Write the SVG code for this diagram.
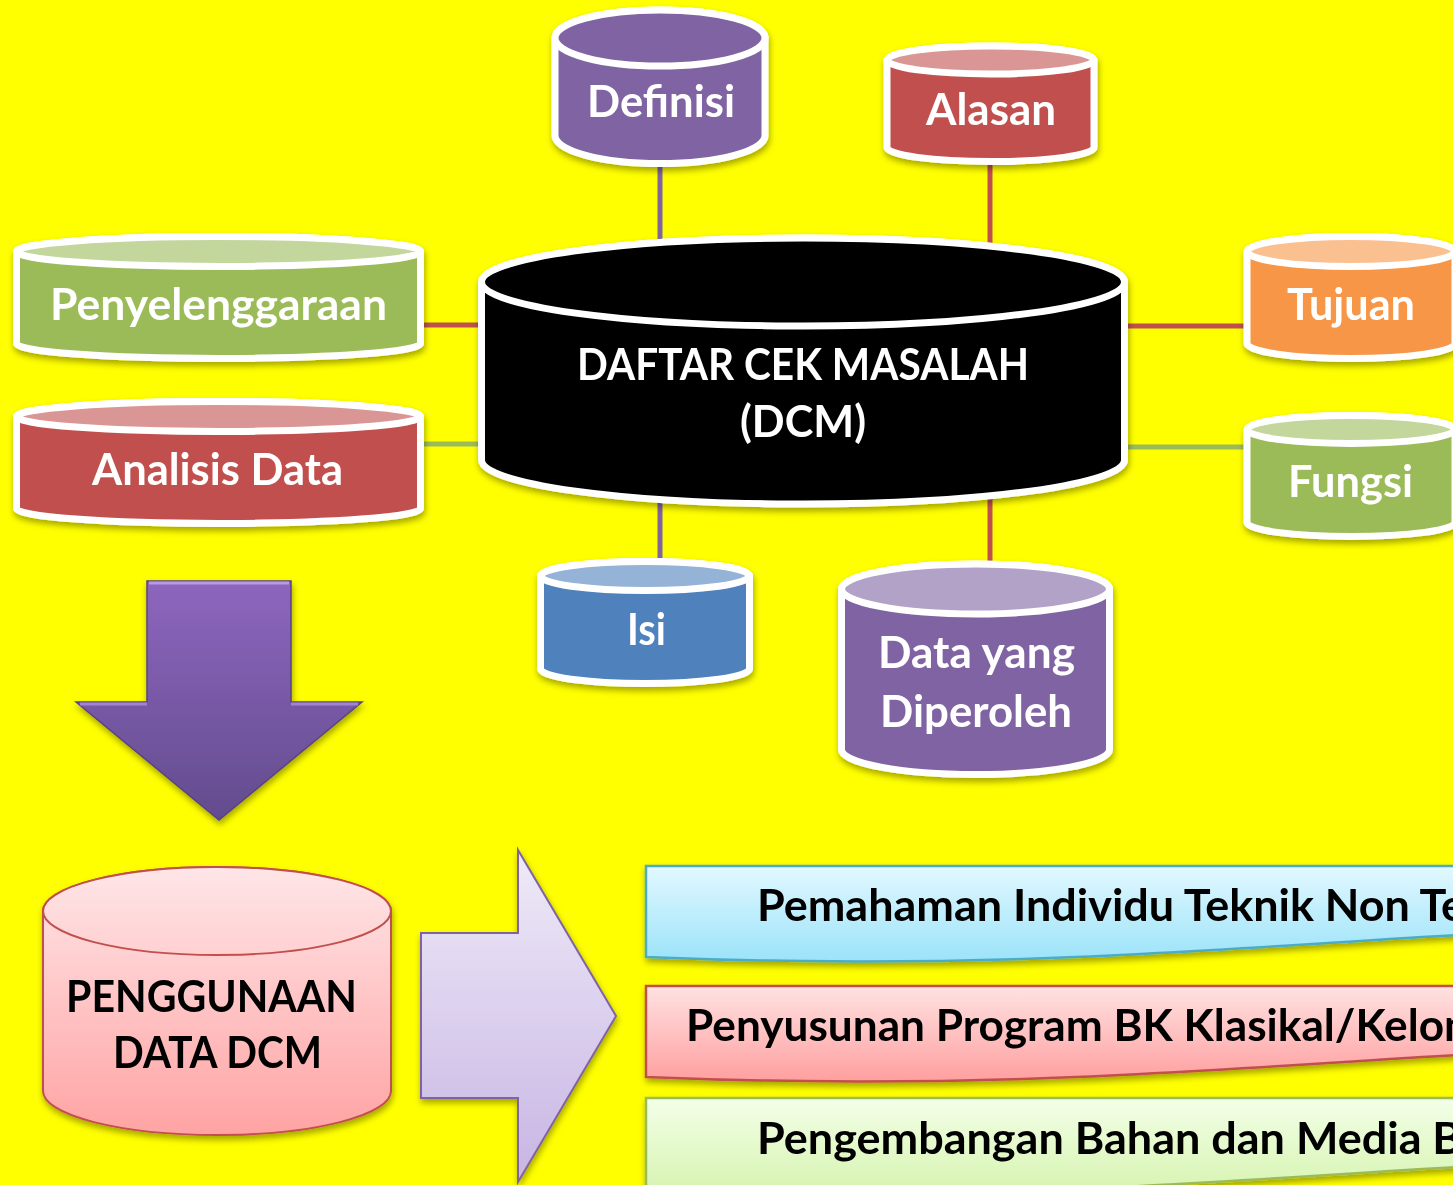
<svg xmlns="http://www.w3.org/2000/svg" width="1453" height="1185" viewBox="0 0 1453 1185">
<defs>
<style>
.t{font-family:Lato,"Open Sans","Liberation Sans",sans-serif;font-weight:700;font-size:43px;fill:#fff}
.k{fill:#000}
.cyl{stroke:#fff;stroke-width:7}
.con{stroke-width:5;fill:none}
</style>
<filter id="sh" x="-10%" y="-10%" width="125%" height="135%">
<feDropShadow dx="1" dy="4" stdDeviation="3" flood-color="#000" flood-opacity="0.35"/>
</filter>
<linearGradient id="gDown" x1="0" y1="0" x2="0" y2="1">
<stop offset="0" stop-color="#8D66BE"/><stop offset="1" stop-color="#634C8E"/>
</linearGradient>
<linearGradient id="gRight" x1="0" y1="0" x2="0" y2="1">
<stop offset="0" stop-color="#EFEAF8"/><stop offset="1" stop-color="#C7B5E3"/>
</linearGradient>
<linearGradient id="gPink" gradientUnits="userSpaceOnUse" x1="0" y1="867" x2="0" y2="1135">
<stop offset="0" stop-color="#FFE6E8"/><stop offset="1" stop-color="#FFA3A3"/>
</linearGradient>
<linearGradient id="gB1" x1="0" y1="0" x2="0" y2="1">
<stop offset="0" stop-color="#E2F8FF"/><stop offset="1" stop-color="#9BE3F9"/>
</linearGradient>
<linearGradient id="gB2" x1="0" y1="0" x2="0" y2="1">
<stop offset="0" stop-color="#FFE2E2"/><stop offset="1" stop-color="#FF9F9F"/>
</linearGradient>
<linearGradient id="gB3" x1="0" y1="0" x2="0" y2="1">
<stop offset="0" stop-color="#F3FFE8"/><stop offset="1" stop-color="#D6F4B0"/>
</linearGradient>
</defs>
<rect width="1453" height="1185" fill="#FFFF00"/>

<g id="connectors">
<line class="con" stroke="#8064A2" x1="660" y1="160" x2="660" y2="250"/>
<line class="con" stroke="#C0504D" x1="990" y1="155" x2="990" y2="250"/>
<line class="con" stroke="#C0504D" x1="420" y1="325" x2="490" y2="325"/>
<line class="con" stroke="#9BBB59" x1="420" y1="444" x2="490" y2="444"/>
<line class="con" stroke="#C0504D" x1="1120" y1="326" x2="1250" y2="326"/>
<line class="con" stroke="#9BBB59" x1="1120" y1="447" x2="1250" y2="447"/>
<line class="con" stroke="#8064A2" x1="660" y1="495" x2="660" y2="570"/>
<line class="con" stroke="#C0504D" x1="990" y1="495" x2="990" y2="570"/>
</g>

<g id="definisi" filter="url(#sh)">
<path class="cyl" fill="#8064A2" d="M555,38 V135.5 A105,28 0 0 0 765,135.5 V38 A105,28 0 0 0 555,38 Z"/>
<ellipse class="cyl" fill="#8064A2" cx="660" cy="38" rx="105" ry="28"/>
<text class="t" x="587" y="117" textLength="148" lengthAdjust="spacingAndGlyphs">Definisi</text>
</g>

<g id="alasan" filter="url(#sh)">
<path class="cyl" fill="#C0504D" d="M887,60 V147.5 A103.5,14 0 0 0 1094,147.5 V60 A103.5,14 0 0 0 887,60 Z"/>
<ellipse class="cyl" fill="#D99694" cx="990.5" cy="60" rx="103.5" ry="14"/>
<text class="t" x="926" y="125" textLength="130" lengthAdjust="spacingAndGlyphs">Alasan</text>
</g>

<g id="penyelenggaraan" filter="url(#sh)">
<path class="cyl" fill="#9BBB59" d="M16.5,251.5 V343.5 A202,15 0 0 0 420.5,343.5 V251.5 A202,15 0 0 0 16.5,251.5 Z"/>
<ellipse class="cyl" fill="#C3D69B" cx="218.5" cy="251.5" rx="202" ry="15"/>
<text class="t" x="50" y="320" textLength="337" lengthAdjust="spacingAndGlyphs">Penyelenggaraan</text>
</g>

<g id="analisis-data" filter="url(#sh)">
<path class="cyl" fill="#C0504D" d="M16.5,416.5 V508.5 A202,15 0 0 0 420.5,508.5 V416.5 A202,15 0 0 0 16.5,416.5 Z"/>
<ellipse class="cyl" fill="#D99694" cx="218.5" cy="416.5" rx="202" ry="15"/>
<text class="t" x="92" y="485" textLength="251" lengthAdjust="spacingAndGlyphs">Analisis Data</text>
</g>

<g id="dcm" filter="url(#sh)">
<path class="cyl" fill="#000" d="M481.5,282 V460 A321.5,44 0 0 0 1124.5,460 V282 A321.5,44 0 0 0 481.5,282 Z"/>
<ellipse class="cyl" fill="#000" cx="803" cy="282" rx="321.5" ry="44"/>
<text class="t" x="577" y="380" textLength="452" lengthAdjust="spacingAndGlyphs">DAFTAR CEK MASALAH</text>
<text class="t" x="740" y="437" textLength="126" lengthAdjust="spacingAndGlyphs">(DCM)</text>
</g>

<g id="tujuan" filter="url(#sh)">
<path class="cyl" fill="#F79646" d="M1247,251.5 V343.5 A104,15 0 0 0 1455,343.5 V251.5 A104,15 0 0 0 1247,251.5 Z"/>
<ellipse class="cyl" fill="#FAC090" cx="1351" cy="251.5" rx="104" ry="15"/>
<text class="t" x="1287" y="320" textLength="128" lengthAdjust="spacingAndGlyphs">Tujuan</text>
</g>

<g id="fungsi" filter="url(#sh)">
<path class="cyl" fill="#9BBB59" d="M1247,429.5 V522.5 A104,14 0 0 0 1455,522.5 V429.5 A104,14 0 0 0 1247,429.5 Z"/>
<ellipse class="cyl" fill="#C3D69B" cx="1351" cy="429.5" rx="104" ry="14"/>
<text class="t" x="1288" y="497" textLength="125" lengthAdjust="spacingAndGlyphs">Fungsi</text>
</g>

<g id="isi" filter="url(#sh)">
<path class="cyl" fill="#4F81BD" d="M540.5,576 V669 A104.5,14.5 0 0 0 749.5,669 V576 A104.5,14.5 0 0 0 540.5,576 Z"/>
<ellipse class="cyl" fill="#95B3D7" cx="645" cy="576" rx="104.5" ry="14.5"/>
<text class="t" x="627" y="645" textLength="39" lengthAdjust="spacingAndGlyphs">Isi</text>
</g>

<g id="data-diperoleh" filter="url(#sh)">
<path class="cyl" fill="#8064A2" d="M841.5,589 V749.5 A134,25 0 0 0 1109.5,749.5 V589 A134,25 0 0 0 841.5,589 Z"/>
<ellipse class="cyl" fill="#B2A2C7" cx="975.5" cy="589" rx="134" ry="25"/>
<text class="t" x="878" y="668" textLength="197" lengthAdjust="spacingAndGlyphs">Data yang</text>
<text class="t" x="880" y="727" textLength="192" lengthAdjust="spacingAndGlyphs">Diperoleh</text>
</g>

<g id="arrow-down" filter="url(#sh)">
<polygon points="147,581 291,581 291,702 362,702 219,820 76,702 147,702" fill="url(#gDown)" stroke="#5A4482" stroke-width="1.5"/>
<polyline points="149,583 289,583" stroke="#B99AE8" stroke-width="3" fill="none"/>
<polyline points="80,704 147,704" stroke="#A283D2" stroke-width="3" fill="none"/>
<polyline points="291,704 358,704" stroke="#A283D2" stroke-width="3" fill="none"/>
</g>

<g id="penggunaan" filter="url(#sh)">
<path fill="url(#gPink)" stroke="#C0504D" stroke-width="2" d="M43,911 V1091 A174,44 0 0 0 391,1091 V911 A174,44 0 0 0 43,911 Z"/>
<ellipse fill="url(#gPink)" stroke="#C0504D" stroke-width="2" cx="217" cy="911" rx="174" ry="44"/>
<text class="t k" x="66" y="1012" textLength="291" lengthAdjust="spacingAndGlyphs">PENGGUNAAN</text>
<text class="t k" x="113" y="1068" textLength="209" lengthAdjust="spacingAndGlyphs">DATA DCM</text>
</g>

<g id="arrow-right" filter="url(#sh)">
<polygon points="421,933 518,933 518,850 616,1016 518,1182 518,1098 421,1098" fill="url(#gRight)" stroke="#8064A2" stroke-width="2"/>
</g>

<g id="banner-1" filter="url(#sh)">
<path d="M646,866 H1475 V934 C1250,946 1000,972 646,957 Z" fill="url(#gB1)" stroke="#4BACC6" stroke-width="2.5"/>
<text class="t k" x="757" y="921" textLength="708" lengthAdjust="spacingAndGlyphs">Pemahaman Individu Teknik Non Te</text>
</g>

<g id="banner-2" filter="url(#sh)">
<path d="M646,986 H1475 V1054 C1250,1066 1000,1092 646,1077 Z" fill="url(#gB2)" stroke="#C0504D" stroke-width="2.5"/>
<text class="t k" x="686" y="1041" textLength="795" lengthAdjust="spacingAndGlyphs">Penyusunan Program BK Klasikal/Kelom</text>
</g>

<g id="banner-3" filter="url(#sh)">
<path d="M646,1098 H1475 V1166 C1250,1178 1000,1204 646,1189 Z" fill="url(#gB3)" stroke="#9BBB59" stroke-width="2.5"/>
<text class="t k" x="757" y="1154" textLength="705" lengthAdjust="spacingAndGlyphs">Pengembangan Bahan dan Media B</text>
</g>
</svg>
